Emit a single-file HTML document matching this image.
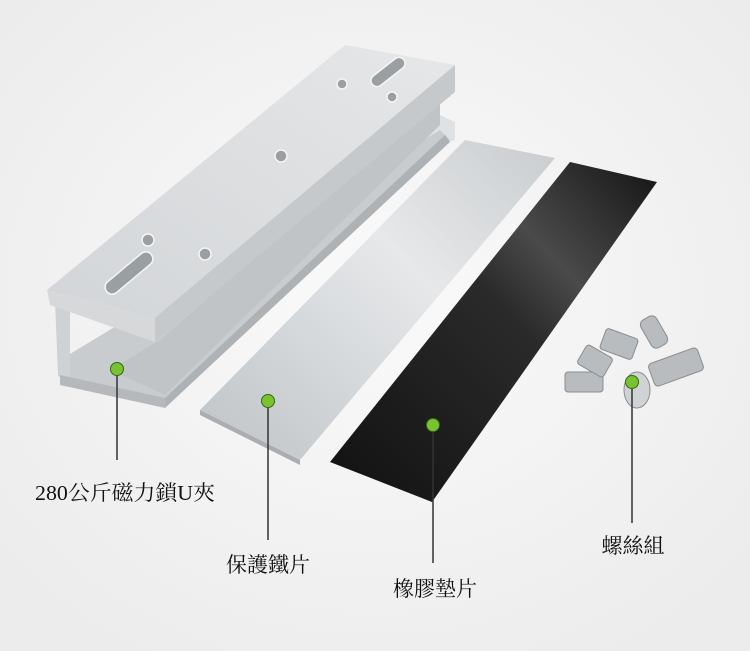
<!DOCTYPE html>
<html><head><meta charset="utf-8"><style>
html,body{margin:0;padding:0;width:750px;height:651px;overflow:hidden;background:#f2f2f2}
svg{display:block}
text{font-family:"Liberation Serif","Noto Serif CJK SC",serif;font-size:21px;fill:#111}
</style></head><body>
<svg width="750" height="651" viewBox="0 0 750 651">
<defs>
<radialGradient id="bg" cx="50%" cy="45%" r="65%"><stop offset="0" stop-color="#fafafa"/><stop offset="1" stop-color="#ececec"/></radialGradient>
<linearGradient id="top" x1="0" y1="1" x2="1" y2="0"><stop offset="0" stop-color="#d2d5d8"/><stop offset="1" stop-color="#e6e7e8"/></linearGradient>
<linearGradient id="plate" x1="0" y1="1" x2="1" y2="0"><stop offset="0" stop-color="#bfc3c6"/><stop offset="0.6" stop-color="#e6e8ea"/><stop offset="1" stop-color="#c9ccce"/></linearGradient>
<linearGradient id="rub" x1="0" y1="1" x2="1" y2="0"><stop offset="0" stop-color="#111"/><stop offset="0.55" stop-color="#2a2a2a"/><stop offset="0.7" stop-color="#4a4a4a"/><stop offset="1" stop-color="#141414"/></linearGradient>
</defs>
<rect width="750" height="651" fill="url(#bg)"/>
<polygon points="380,135 440,115 455,122 455,140 440,145 380,160" fill="#dfe2e4"/>
<polygon points="60,360 440,130 450,140 165,405 70,380" fill="#c8ccce"/>
<polygon points="55,300 70,312 70,382 58,376" fill="#cfd2d4"/>
<polygon points="60,375 165,398 165,408 60,385" fill="#b5b9bb"/>
<polygon points="165,398 445,135 450,142 165,408" fill="#aeb2b4"/>
<polygon points="160,340 440,95 440,125 165,395 110,370" fill="#c0c4c7"/>
<polygon points="47,290 345,45 455,65 155,318" fill="url(#top)"/>
<polygon points="155,318 455,65 455,92 155,342" fill="#c6c9cb"/>
<polygon points="47,290 155,318 155,342 50,305" fill="#d6d8da"/>
<g fill="#9a9fa2" stroke="#f5f5f5" stroke-width="1.5">
<rect x="100" y="266" width="58" height="14" rx="7" transform="rotate(-40 129 273)"/>
<rect x="368" y="66" width="40" height="12" rx="6" transform="rotate(-38 388 72)"/>
<circle cx="148" cy="240" r="6"/><circle cx="205" cy="254" r="6"/>
<circle cx="281" cy="156" r="6"/><circle cx="342" cy="84" r="5"/><circle cx="392" cy="97" r="5"/>
</g>
<polygon points="200,410 465,140 555,158 300,460" fill="url(#plate)"/>
<polygon points="200,410 300,460 300,465 200,415" fill="#aaaeb1"/>
<polygon points="330,462 570,162 657,182 432,502" fill="url(#rub)"/>
<g fill="#b9bcbe" stroke="#8a8d8f" stroke-width="1">
<rect x="565" y="372" width="38" height="20" rx="3"/>
<rect x="580" y="350" width="30" height="22" rx="3" transform="rotate(30 595 361)"/>
<rect x="602" y="333" width="34" height="22" rx="3" transform="rotate(20 619 344)"/>
<rect x="638" y="323" width="32" height="18" rx="6" transform="rotate(60 654 332)"/>
<rect x="650" y="355" width="52" height="24" rx="4" transform="rotate(-20 676 367)"/>
<ellipse cx="637" cy="390" rx="13" ry="18" fill="#d0d3d5"/>
</g>
<g stroke="#333" stroke-width="1.5">
<line x1="117" y1="370" x2="117" y2="460"/>
<line x1="268" y1="402" x2="268" y2="540"/>
<line x1="433" y1="426" x2="433" y2="563"/>
<line x1="632" y1="383" x2="632" y2="523"/>
</g>
<g fill="#7ac231" stroke="#2f6d10" stroke-width="1">
<circle cx="117" cy="369" r="6.5"/><circle cx="268" cy="401" r="6.5"/>
<circle cx="433" cy="425" r="6.5"/><circle cx="632" cy="382" r="6.5"/>
</g>
<text x="35" y="500" textLength="180" lengthAdjust="spacingAndGlyphs">280公斤磁力鎖U夾</text>
<text x="268" y="572" text-anchor="middle">保護鐵片</text>
<text x="435" y="596" text-anchor="middle">橡膠墊片</text>
<text x="633" y="553" text-anchor="middle">螺絲組</text>
</svg>
</body></html>
